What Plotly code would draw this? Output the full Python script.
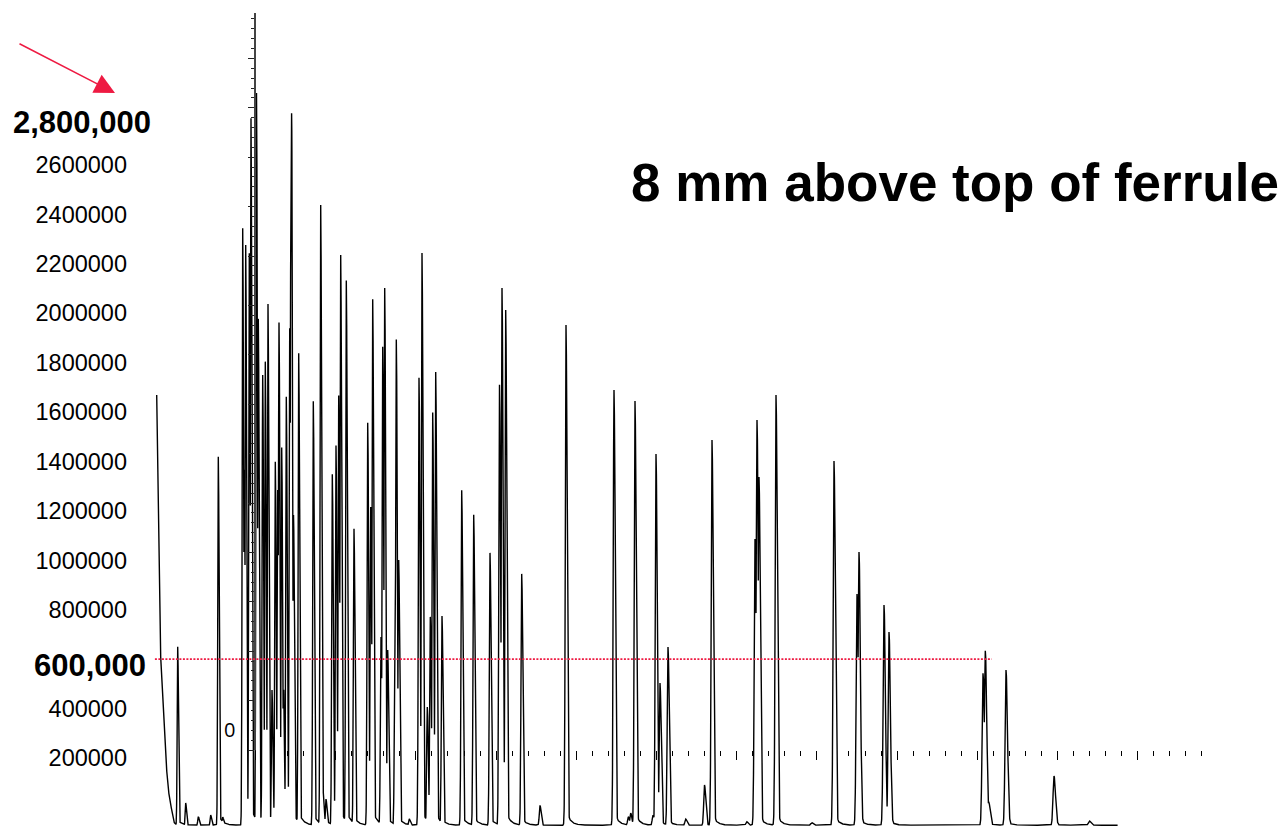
import numpy as np
import plotly.graph_objects as go

W, H = 1283, 827

# ---------------- data ----------------
# retention time (min) and apex abundance of every peak
PEAK_TIMES = [
    1.885, 2.285, 2.915, 3.535, 3.915, 4.135,
    5.135, 5.215, 5.285, 5.465, 5.55, 5.825, 5.915, 6.135, 6.265, 6.4,
    6.6, 6.765, 6.885, 6.95, 7.085, 7.175, 7.315, 7.485, 7.54, 7.58,
    7.675, 7.935, 8.665, 9.035, 9.15, 9.3, 9.615, 9.8, 9.935, 10.035,
    10.315, 10.7, 11.385, 11.535, 11.635, 12.05, 12.135, 12.235, 12.385,
    12.75, 12.815, 12.935, 13.465, 13.95, 14.1, 14.365, 14.515, 14.635,
    14.785, 15.1, 16.085, 16.685, 17.5, 17.975, 18.1, 18.285, 19.085,
    20.0, 21.3, 23.7, 24.415, 24.535, 24.75, 25.65, 25.8, 26.0, 26.4,
    27.285, 28.225, 28.6, 30.335, 30.75, 30.85, 30.95, 31.8, 33.585,
    34.7, 35.85, 35.95, 37.2, 37.45, 42.15, 42.265, 42.435, 43.3, 45.7,
    47.465,
]
PEAK_HEIGHTS = [
    650000, 18000, -37600, -30800, 1419000, -38900,
    2344000, 1366000, 2276000, 2243000, 2789000, 2891000, 1977000, 1750000, 1804000, 2037000,
    475000, 1399000, 1285000, 1962000, 1456000, 489000, 1662000, 1939000, 2303000, 2809000,
    1183000, 1838000, 1644000, 2438000, 66000, 34000, 1348000, 1465000, 1667000, 2236000,
    2132000, 1128000, 1557000, 1216000, 2056000, 690000, 1864000, 2102000, 637000,
    729000, 1894000, 1001000, -47000, 1739000, 2244000, 406000, 771000, 1598000,
    1762000, 775000, 1283000, 1184000, 1030000, 1710000, 2102000, 2013000, 945000,
    8000, 1952000, 1689000, -38000, -23000, 1645000, -31000, 1430000, 503000, 649000,
    -47000, 91000, 1487000, -58000, 1086000, 1568000, 1337000, 1669000, -62000,
    1402000, 864000, 1034000, 819000, 710000, 543000, 634000, 22000, 556000, 127000,
    -55000,
]
# solvent front (falling edge) read point by point
SOLVENT_TIMES = [0.835, 0.95, 1.035, 1.165, 1.265, 1.365, 1.465, 1.585, 1.675, 1.8]
SOLVENT_LEVELS = [1669000, 920300, 608700, 382000, 244400, 110900, 42100, -10500, -59100, -67200]
BASELINE = -72000
RUN_END = 48.885

Y_TICK_VALUES = [200000, 400000, 800000, 1000000, 1200000, 1400000, 1600000,
                 1800000, 2000000, 2200000, 2400000, 2600000]
Y_TICK_TEXT = [str(v) for v in Y_TICK_VALUES]
BOLD_LABELS = ["2,800,000", "600,000"]
BOLD_LABEL_VALUES = [2800000, 600000]
THRESHOLD = 600000
THRESHOLD_END = 42.585
TITLE = "8 mm above top of ferrule"
ORIGIN_LABEL = "0"

# ---------------- build the trace from the peak table ----------------
t = np.arange(SOLVENT_TIMES[0], RUN_END, 0.005)
pt = np.array(PEAK_TIMES)[:, None]
ph = np.array(PEAK_HEIGHTS, dtype=float)[:, None]
sig = (0.5 + 0.01 * pt) / 20.0
d = t[None, :] - pt
left = np.exp(-0.5 * (d / sig) ** 2)
dpos = np.clip(d, 0, None)
right = np.maximum(np.exp(-0.5 * (dpos / (1.6 * sig)) ** 2), 0.03 * np.exp(-dpos / 0.2))
shape = np.where(d < 0, left, right)
curves = BASELINE + (ph - BASELINE) * shape
signal = curves.max(axis=0)
solvent = np.interp(t, SOLVENT_TIMES, SOLVENT_LEVELS, right=BASELINE)
signal = np.where(t <= SOLVENT_TIMES[-1], np.maximum(solvent, signal), signal)

RED = "#ee1a42"
FONT = "Liberation Sans, Arial, sans-serif"

fig = go.Figure()
fig.add_trace(go.Scatter(x=t, y=signal, mode="lines",
                         line=dict(color="black", width=1.4),
                         hoverinfo="skip", showlegend=False))
# invisible carrier so the overlay ruler axes get drawn
fig.add_trace(go.Scatter(x=[0], y=[0], xaxis="x2", yaxis="y2", mode="markers",
                         marker=dict(opacity=0), hoverinfo="skip", showlegend=False))

x0_px = 140.0
fig.update_layout(
    width=W, height=H,
    margin=dict(l=0, r=0, t=0, b=0),
    paper_bgcolor="white", plot_bgcolor="rgba(0,0,0,0)",
    showlegend=False,
    xaxis=dict(domain=[x0_px / W, 1], range=[0, (W - x0_px) / 20.0], visible=False),
    yaxis=dict(domain=[0, 1], range=[-79300, 3267500],
               tickvals=Y_TICK_VALUES, ticktext=Y_TICK_TEXT,
               showgrid=False, zeroline=False, showline=False, ticks="",
               tickfont=dict(family=FONT, size=23.5, color="black"),
               ticklabelstandoff=12, automargin=False),
    xaxis2=dict(domain=[255.5 / W, 1205.5 / W], range=[0, 950 / 16.04], anchor="y2",
                showline=False, showgrid=False, zeroline=False, showticklabels=False,
                ticks="outside", tick0=0, dtick=5, ticklen=9, tickwidth=1, tickcolor="black",
                minor=dict(tick0=0, dtick=1, ticks="outside", ticklen=5, tickwidth=1,
                           tickcolor="black", showgrid=False)),
    yaxis2=dict(domain=[77 / H, 814 / H], range=[0, 737 / 9.88], anchor="x2",
                showline=True, linecolor="#444", linewidth=1.5,
                showgrid=False, zeroline=False, showticklabels=False,
                ticks="outside", tick0=0, dtick=5, ticklen=6, tickwidth=1, tickcolor="#222",
                minor=dict(tick0=0, dtick=1, ticks="outside", ticklen=3, tickwidth=1,
                           tickcolor="#222", showgrid=False)),
)

fig.add_shape(type="line", xref="x", yref="y", x0=SOLVENT_TIMES[0] - 0.09, x1=THRESHOLD_END,
              y0=THRESHOLD, y1=THRESHOLD, line=dict(color=RED, width=1.6, dash="2px,1.5px"))

annotations = []
for txt, val, xr, shift in zip(BOLD_LABELS, BOLD_LABEL_VALUES, [153, 148], [-7, -6]):
    annotations.append(dict(x=xr / W, xref="paper", y=val, yref="y", yshift=shift,
                            text=txt, showarrow=False, xanchor="right", yanchor="middle",
                            font=dict(family=FONT, size=31, color="black", weight="bold")))
annotations.append(dict(x=629 / W, xref="paper", y=1 - 182 / H, yref="paper", text=TITLE,
                        showarrow=False, xanchor="left", yanchor="middle",
                        font=dict(family=FONT, size=53, color="black", weight="bold")))
annotations.append(dict(x=229 / W, xref="paper", y=1 - 729 / H, yref="paper", text=ORIGIN_LABEL,
                        showarrow=False, xanchor="center", yanchor="middle",
                        font=dict(family="Open Sans, sans-serif", size=20, color="black")))
annotations.append(dict(x=115 / W, xref="paper", y=1 - 93 / H, yref="paper", text="",
                        showarrow=True, ax=-97, ay=-50, arrowhead=2, arrowsize=2.7,
                        arrowwidth=1.5, arrowcolor=RED, standoff=0))
fig.update_layout(annotations=annotations)

fig.write_html("out.html", config={"displayModeBar": False},
               post_script="document.body.style.margin='0px';")
